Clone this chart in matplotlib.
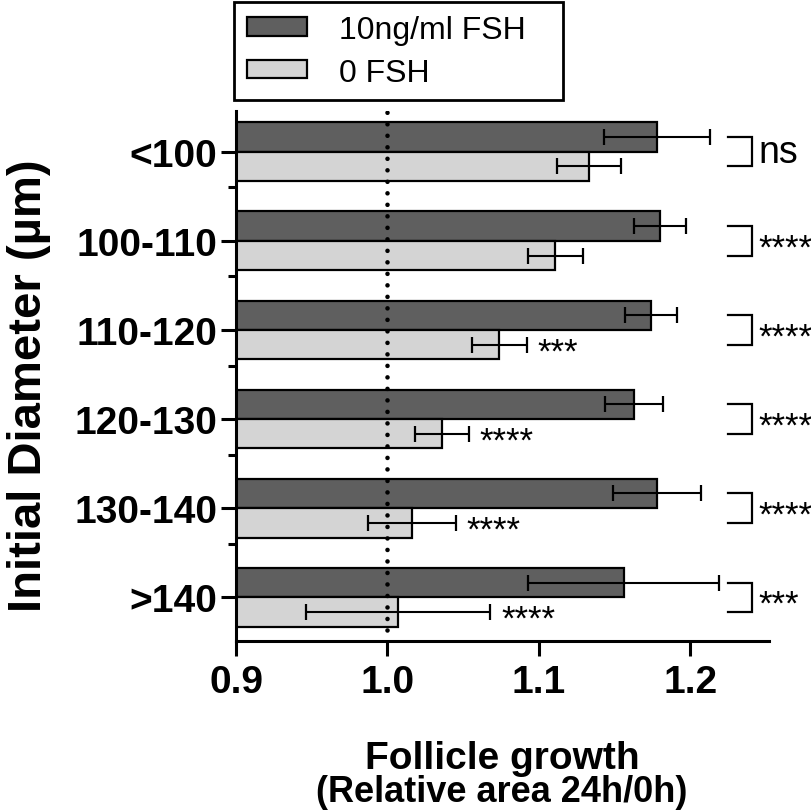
import numpy as np
import matplotlib
matplotlib.use('Agg')
import matplotlib.pyplot as plt
from matplotlib.patches import Patch

plt.rcParams['font.family'] = ['Liberation Sans', 'DejaVu Sans']

# Data
categories = ['<100', '100-110', '110-120', '120-130', '130-140', '>140']
fsh_mean = [1.178, 1.180, 1.174, 1.163, 1.178, 1.156]
fsh_sem = [0.035, 0.017, 0.017, 0.019, 0.029, 0.063]
ctrl_mean = [1.133, 1.111, 1.074, 1.036, 1.016, 1.007]
ctrl_sem = [0.021, 0.018, 0.018, 0.018, 0.029, 0.061]
pair_sig = ['ns', '****', '****', '****', '****', '***']
ctrl_sig = ['', '', '***', '****', '****', '****']
x_ticks = [0.9, 1.0, 1.1, 1.2]

dark = '#5f5f5f'
light = '#d4d4d4'
h = 0.33
star_shift = 0.08  # asterisks sit high in the font, push them down to bar centre

fig = plt.figure(figsize=(8.12, 8.12), dpi=100)
ax = fig.add_axes([236 / 812, 1 - 641.7 / 812, (769 - 236) / 812, (641.7 - 111.7) / 812])

y = np.arange(len(categories))
fsh_mean = np.array(fsh_mean)
ctrl_mean = np.array(ctrl_mean)
fsh_sem = np.array(fsh_sem)
ctrl_sem = np.array(ctrl_sem)

ax.barh(y - h / 2, fsh_mean, height=h, color=dark, edgecolor='black', linewidth=1.6, zorder=2)
ax.barh(y + h / 2, ctrl_mean, height=h, color=light, edgecolor='black', linewidth=1.6, zorder=2)
ax.errorbar(fsh_mean, y - h / 2, xerr=fsh_sem, fmt='none', ecolor='black',
            elinewidth=1.5, capsize=5.5, capthick=1.6, zorder=3)
ax.errorbar(ctrl_mean, y + h / 2, xerr=ctrl_sem, fmt='none', ecolor='black',
            elinewidth=1.5, capsize=5.5, capthick=1.6, zorder=3)

# dotted reference line at 1.0
ax.axvline(1.0, ymin=0.02, ymax=1.0, color='black', lw=3.3,
           linestyle=(0, (0.01, 2.5)), dash_capstyle='round', zorder=4)

# significance vs 0 FSH baseline
for i in range(len(categories)):
    if ctrl_sig[i]:
        ax.text(ctrl_mean[i] + ctrl_sem[i] + 0.007, y[i] + h / 2 + star_shift, ctrl_sig[i],
                fontsize=25, ha='left', va='center', zorder=5)

# brackets between pairs
bx0, bx1 = 1.225, 1.241
for i in range(len(categories)):
    ax.plot([bx0, bx1, bx1, bx0], [y[i] - h / 2, y[i] - h / 2, y[i] + h / 2, y[i] + h / 2],
            color='black', lw=1.6, clip_on=False, solid_joinstyle='miter')
    if pair_sig[i] == 'ns':
        ax.text(bx1 + 0.004, y[i], pair_sig[i], fontsize=27, ha='left', va='center',
                clip_on=False)
    else:
        ax.text(bx1 + 0.004, y[i] + star_shift, pair_sig[i], fontsize=25, ha='left',
                va='center', clip_on=False)

ax.set_xlim(0.9, 1.252)
ax.set_ylim(5.487, -0.46)

ax.set_xticks(x_ticks)
ax.set_xticklabels(['%.1f' % v for v in x_ticks], fontsize=28, fontweight='bold')
ax.set_yticks(y)
ax.set_yticklabels(categories, fontsize=28, fontweight='bold')
ax.set_yticks(y[:-1] + 0.40, minor=True)

ax.tick_params(axis='both', which='major', length=10.5, width=2.2, direction='out', pad=3)
ax.tick_params(axis='y', which='minor', length=6, width=2.2)
ax.tick_params(axis='x', pad=6)

for s in ['top', 'right']:
    ax.spines[s].set_visible(False)
for s in ['left', 'bottom']:
    ax.spines[s].set_linewidth(2.2)

fig.text(502 / 812, 1 - 759 / 812, 'Follicle growth', fontsize=28, fontweight='bold',
         ha='center', va='center')
fig.text(502 / 812, 1 - 793 / 812, '(Relative area 24h/0h)', fontsize=26, fontweight='bold',
         ha='center', va='center')
fig.text(29 / 812, 1 - 386 / 812, 'Initial Diameter (µm)', fontsize=34, fontweight='bold',
         rotation=90, ha='center', va='center')

handles = [Patch(facecolor=dark, edgecolor='black', linewidth=1.6, label='10ng/ml FSH'),
           Patch(facecolor=light, edgecolor='black', linewidth=1.6, label='0 FSH')]
leg = fig.legend(handles=handles, loc='upper left',
                 bbox_to_anchor=(234 / 812, 1 - 3 / 812, (563 - 234) / 812, 0.0),
                 mode='expand', borderaxespad=0, fontsize=23, frameon=True,
                 fancybox=False, edgecolor='black', framealpha=1,
                 handlelength=1.9, handleheight=0.5, handletextpad=1.0,
                 labelspacing=0.4, borderpad=0.4)
leg.get_frame().set_linewidth(2)

fig.savefig('out.png', dpi=100)
